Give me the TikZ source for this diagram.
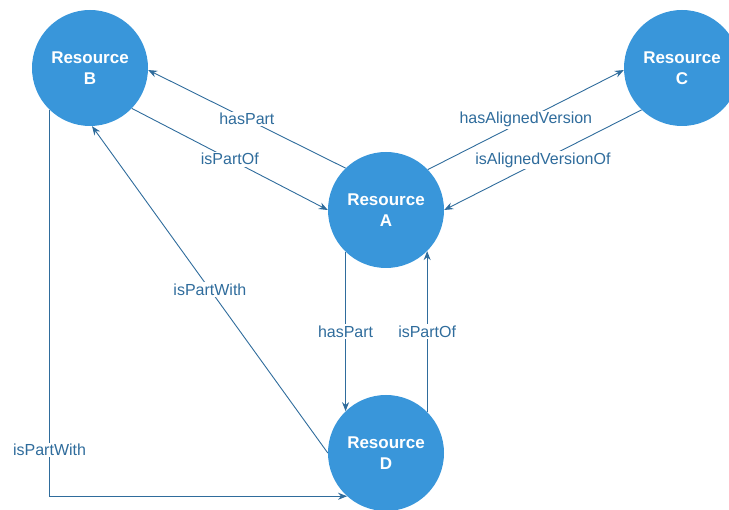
\documentclass[tikz,border=0pt]{standalone}
\usepackage{fontspec}
\setmainfont{Liberation Sans}
\usetikzlibrary{arrows.meta}
\definecolor{resblue}{RGB}{57, 150, 218}
\definecolor{linkblue}{RGB}{47, 108, 156}

\begin{document}
\begin{tikzpicture}[x=1pt, y=-1pt,
    res/.style={circle, fill=resblue, text=white, minimum size=116pt, inner sep=0pt, align=center, font=\fontsize{17}{21}\selectfont\bfseries},
    lbl/.style={fill=white, text=linkblue, inner sep=1.5pt, font=\fontsize{16}{19}\selectfont},
    link/.style={draw=linkblue, line width=0.9pt, -{Stealth[length=9pt, width=7pt]}}]
    \useasboundingbox (0,0) rectangle (729,510);
    \node [res] (b) at (90,68) {Resource\\B};
    \node [res] (c) at (682,68) {Resource\\C};
    \node [res] (a) at (386,210) {Resource\\A};
    \node [res] (d) at (386,453) {Resource\\D};

    \draw [link] (a.134) -- node [lbl] {hasPart} (b.-2);
    \draw [link] (b.-44) -- node [lbl] {isPartOf} (a.180);
    \draw [link] (a.44) -- node [lbl] {hasAlignedVersion} (c.182);
    \draw [link] (c.226) -- node [lbl] {isAlignedVersionOf} (a.0);
    \draw [link] (d.180) -- node [lbl, pos=0.5] {isPartWith} (b.-88);
    \draw [link] (a.226) -- node [lbl, pos=0.5] {hasPart} (a.226 |- d.134);
    \draw [link] (d.45) -- node [lbl, pos=0.5] {isPartOf} (d.45 |- a.-45);
    \draw [link] (b.226) |- node [lbl, pos=0.44] {isPartWith} (d.228);
\end{tikzpicture}
\end{document}
